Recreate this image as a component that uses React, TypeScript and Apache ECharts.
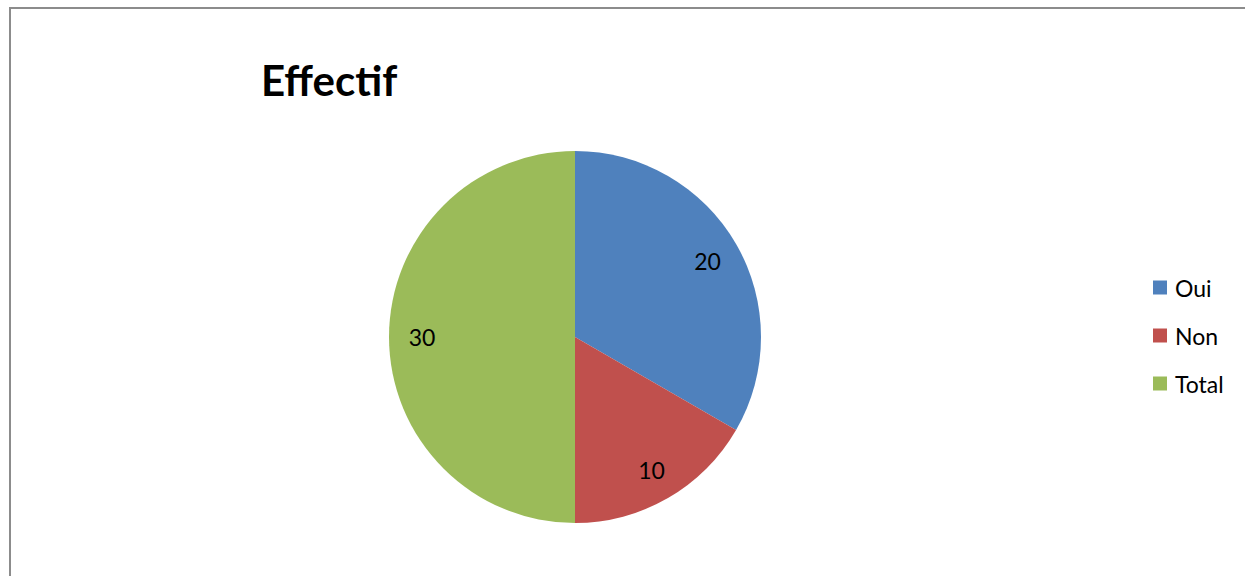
import React, { useEffect, useRef } from "react";
import * as echarts from "echarts";

const categories = ["Oui", "Non", "Total"];
const values = [20, 10, 30];
const colors = ["#4f81bd", "#c0504d", "#9bbb59"];
const titleText = "Effectif";

export default function App() {
  const ref = useRef<HTMLDivElement>(null);
  useEffect(() => {
    if (!ref.current) return;
    const chart = echarts.init(ref.current, null, { renderer: "svg" });
    const data = categories.map((name, i) => ({ name, value: values[i], itemStyle: { color: colors[i] } }));
    chart.setOption({
      animation: false,
      backgroundColor: "#ffffff",
      textStyle: { fontFamily: "Lato" },
      title: {
        text: titleText,
        left: 256,
        top: 54,
        textStyle: { fontFamily: "Lato", fontWeight: "bold", fontSize: 42, color: "#000" },
      },
      legend: {
        orient: "vertical",
        left: 1153,
        top: 276,
        padding: 0,
        itemWidth: 14,
        itemHeight: 14,
        itemGap: 25,
        icon: "rect",
        textStyle: { fontFamily: "Lato", fontSize: 23, color: "#000", padding: [0, 0, 0, 3] },
        data: categories,
      },
      graphic: [
        {
          type: "rect",
          shape: { x: 10, y: 8, width: 1400, height: 800 },
          style: { fill: "none", stroke: "#8c8c8c", lineWidth: 2 },
          silent: true,
        },
      ],
      series: [
        {
          type: "pie",
          center: [575, 337],
          radius: [0, 186],
          startAngle: 90,
          clockwise: true,
          label: { show: false },
          labelLine: { show: false },
          data,
        },
        {
          type: "pie",
          center: [575, 337],
          radius: [114, 186],
          startAngle: 90,
          clockwise: true,
          silent: true,
          itemStyle: { color: "rgba(0,0,0,0)" },
          label: { show: true, position: "inside", formatter: "{c}", fontFamily: "Lato", fontSize: 23, color: "#000" },
          labelLine: { show: false },
          data: categories.map((name, i) => ({ name, value: values[i], itemStyle: { color: "rgba(0,0,0,0)" } })),
          legendHoverLink: false,
        },
      ],
    });
    return () => chart.dispose();
  }, []);
  return <div ref={ref} style={{ position: "absolute", left: 0, top: 0, width: 1245, height: 576 }} />;
}
